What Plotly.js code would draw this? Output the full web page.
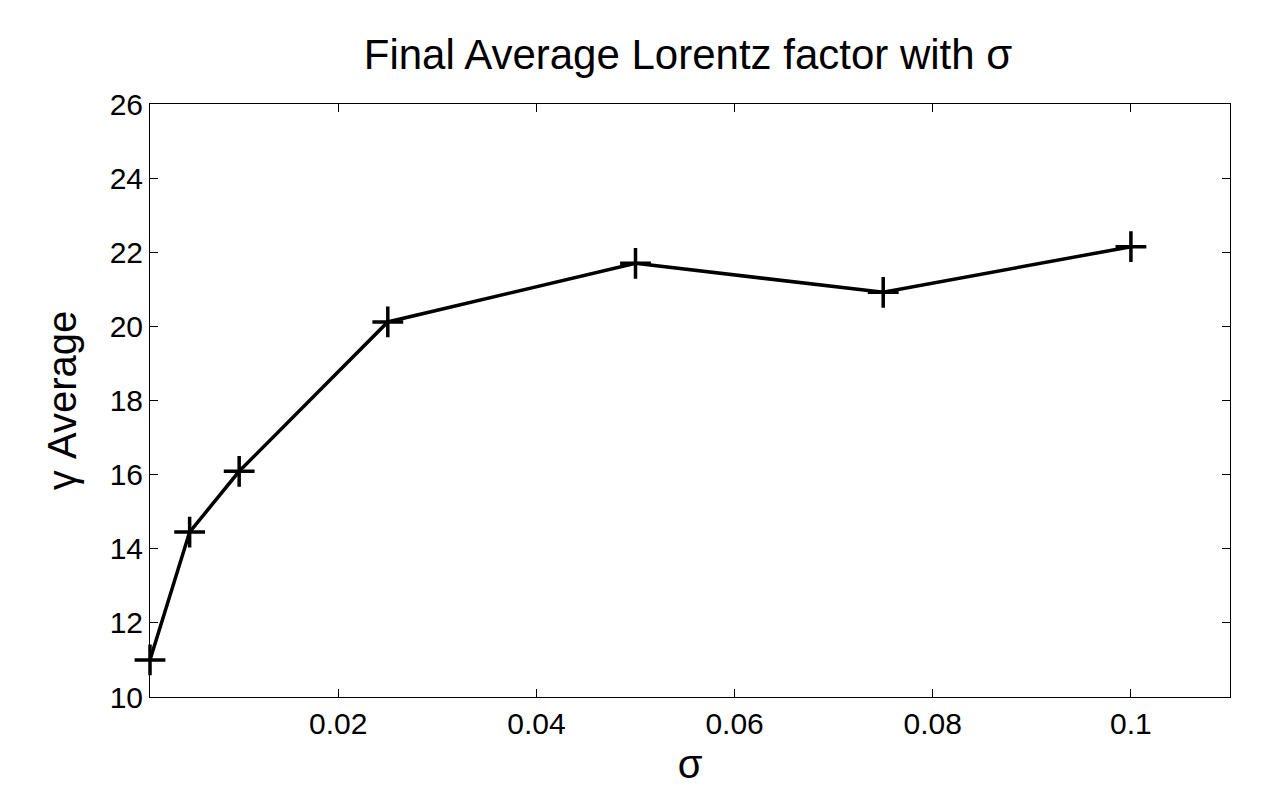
<!DOCTYPE html>
<html>
<head>
<meta charset="utf-8">
<script src="https://cdn.plot.ly/plotly-3.0.1.min.js"></script>
<style>html,body{margin:0;padding:0;background:#fff;}#chart{width:1280px;height:800px;}</style>
</head>
<body>
<div id="chart"></div>
<script>
const sigma = [0.001, 0.005, 0.01, 0.025, 0.05, 0.075, 0.1];
const gammaAvg = [11.0, 14.45, 16.09, 20.12, 21.70, 20.92, 22.15];
const xTickVals = [0.02, 0.04, 0.06, 0.08, 0.1];
const xTickText = ['0.02', '0.04', '0.06', '0.08', '0.1'];
const yTickVals = [10, 12, 14, 16, 18, 20, 22, 24, 26];
const yTickText = ['10', '12', '14', '16', '18', '20', '22', '24', '26'];

const font = 'Liberation Sans, Arial, sans-serif';

const trace = {
  x: sigma,
  y: gammaAvg,
  type: 'scatter',
  mode: 'lines+markers',
  line: {color: '#000', width: 3.5},
  marker: {symbol: 'cross-thin-open', size: 22, color: '#000', line: {color: '#000', width: 3.5}},
  cliponaxis: false,
  showlegend: false
};

const layout = {
  width: 1280,
  height: 800,
  paper_bgcolor: '#fff',
  plot_bgcolor: '#fff',
  margin: {l: 150, r: 50, t: 104, b: 103, pad: 0},
  font: {family: font, color: '#000'},
  title: {
    text: 'Final Average Lorentz factor with σ',
    font: {family: font, size: 42, color: '#000'},
    x: 0.5375, xanchor: 'center',
    yref: 'container', y: 0.932, yanchor: 'middle'
  },
  xaxis: {
    range: [0.001, 0.11],
    tickvals: xTickVals,
    ticktext: xTickText,
    ticks: 'inside',
    ticklen: 8,
    tickwidth: 1,
    tickcolor: '#000',
    showline: true,
    linecolor: '#000',
    linewidth: 1,
    mirror: 'ticks',
    showgrid: false,
    zeroline: false,
    tickfont: {family: font, size: 30, color: '#000'},
    title: {text: 'σ', font: {family: font, size: 40, color: '#000'}, standoff: 10}
  },
  yaxis: {
    range: [10, 26],
    tickvals: yTickVals,
    ticktext: yTickText,
    ticks: 'inside',
    ticklen: 8,
    tickwidth: 1,
    tickcolor: '#000',
    showline: true,
    linecolor: '#000',
    linewidth: 1,
    mirror: 'ticks',
    showgrid: false,
    zeroline: false,
    tickfont: {family: font, size: 30, color: '#000'},
    title: {text: 'γ Average', font: {family: font, size: 40, color: '#000'}, standoff: 20}
  }
};

Plotly.newPlot('chart', [trace], layout, {displayModeBar: false, staticPlot: true});
</script>
</body>
</html>
